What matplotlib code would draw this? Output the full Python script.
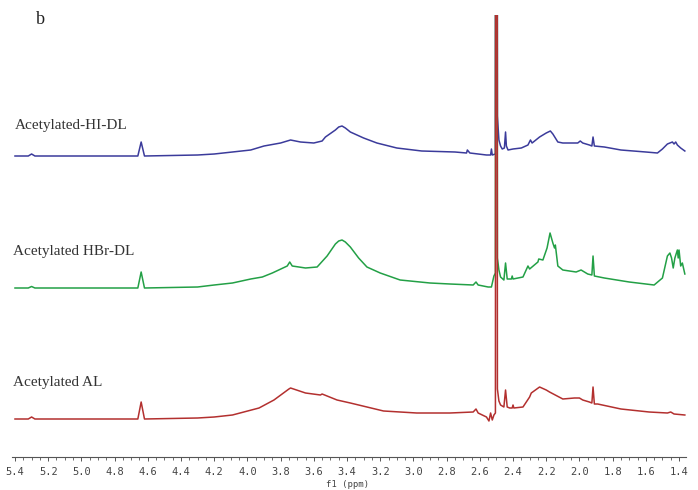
import matplotlib

matplotlib.use("Agg")
import matplotlib.pyplot as plt
from matplotlib.ticker import MultipleLocator, FuncFormatter

# chemical shift (ppm) / intensity (arb. units above each trace's baseline)
HI_DL_PPM = [5.40, 5.32, 5.30, 5.28, 4.66, 4.64, 4.62, 4.30, 4.20, 4.09, 3.98, 3.90,
             3.80, 3.74, 3.68, 3.60, 3.55, 3.53, 3.47, 3.45, 3.43, 3.41, 3.38, 3.30,
             3.22, 3.10, 2.95, 2.75, 2.68, 2.675, 2.66, 2.56, 2.535, 2.53, 2.525,
             2.506, 2.5005, 2.4995, 2.494, 2.485, 2.475, 2.465, 2.452, 2.445, 2.44,
             2.43, 2.40, 2.35, 2.31, 2.295, 2.285, 2.24, 2.20, 2.175, 2.16, 2.13, 2.10,
             2.05, 2.01, 1.995, 1.98, 1.94, 1.925, 1.918, 1.91, 1.85, 1.75, 1.60, 1.53,
             1.50, 1.47, 1.44, 1.43, 1.42, 1.41, 1.39, 1.365]
HI_DL_INT = [0, 0, 2, 0, 0, 14, 0, 1, 2, 4, 6, 10,
             13, 16, 14, 13, 15, 19, 26, 29, 30, 28, 24, 18,
             13, 8, 5, 4, 3, 6, 3, 1, 1, 7, 1,
             2, 2000, 2000, 40, 16, 10, 7, 8, 24, 10,
             6, 7, 8, 11, 16, 13, 19, 23, 25, 22, 14, 13,
             13, 13, 15, 13, 11, 10, 19, 10, 9, 6, 4, 3,
             7, 12, 14, 12, 14, 11, 8, 5]

HBR_DL_PPM = [5.40, 5.32, 5.30, 5.28, 4.66, 4.64, 4.62, 4.30, 4.20, 4.09, 3.98, 3.91,
              3.85, 3.76, 3.745, 3.73, 3.65, 3.58, 3.52, 3.47, 3.45, 3.43, 3.41, 3.38,
              3.33, 3.28, 3.20, 3.08, 2.90, 2.78, 2.64, 2.623, 2.61, 2.55, 2.53, 2.515,
              2.506, 2.5005, 2.4995, 2.494, 2.485, 2.475, 2.455, 2.445, 2.435, 2.42,
              2.41, 2.405, 2.40, 2.34, 2.31, 2.30, 2.25, 2.245, 2.22, 2.195, 2.177, 2.16,
              2.15, 2.145, 2.13, 2.10, 2.02, 1.99, 1.95, 1.925, 1.918, 1.91, 1.85, 1.70,
              1.55, 1.50, 1.47, 1.455, 1.445, 1.435, 1.425, 1.41, 1.405, 1.40, 1.39,
              1.38, 1.365]
HBR_DL_INT = [0, 0, 1.5, 0, 0, 16, 0, 1, 3, 5, 9, 11,
              15, 22, 26, 22, 20, 21, 32, 44, 47, 48, 46, 41,
              30, 21, 15, 8, 5, 4, 3, 6, 3, 1, 1, 12,
              15, 2000, 2000, 30, 18, 11, 8, 25, 9, 9,
              9, 12, 9, 11, 22, 19, 26, 29, 28, 40, 55, 45,
              40, 43, 22, 18, 16, 18, 14, 13, 32, 12, 10, 6,
              3, 10, 32, 35, 30, 20, 30, 38, 30, 38, 22,
              25, 14]

AL_PPM = [5.40, 5.32, 5.30, 5.28, 4.66, 4.64, 4.62, 4.30, 4.20, 4.09, 3.93, 3.84,
          3.75, 3.74, 3.65, 3.56, 3.55, 3.46, 3.38, 3.18, 2.98, 2.78, 2.64, 2.623,
          2.61, 2.56, 2.545, 2.535, 2.525, 2.515, 2.506, 2.5005, 2.4995, 2.494, 2.485,
          2.475, 2.455, 2.445, 2.435, 2.42, 2.405, 2.40, 2.395, 2.34, 2.30, 2.29, 2.24,
          2.20, 2.18, 2.10, 2.03, 2.00, 1.98, 1.94, 1.925, 1.918, 1.91, 1.89, 1.75,
          1.58, 1.47, 1.45, 1.43, 1.365]
AL_INT = [0, 0, 2, 0, 0, 17, 0, 1, 2, 4, 11, 19,
          30, 31, 26, 24, 25, 19, 16, 8, 6, 6, 7, 10,
          6, 2, -2, 6, -1, 4, 6, 2000, 2000, 30, 18,
          14, 12, 29, 12, 11, 11, 14, 11, 12, 22, 26, 32,
          29, 27, 20, 21, 21, 19, 17, 16, 32, 15, 15, 10,
          7, 6, 7, 5, 4]

SPECTRA = [
    ("Acetylated-HI-DL", HI_DL_PPM, HI_DL_INT, "#3b3b9b"),
    ("Acetylated HBr-DL", HBR_DL_PPM, HBR_DL_INT, "#23a046"),
    ("Acetylated AL", AL_PPM, AL_INT, "#b3302f"),
]

W, H = 698, 490
# stacking offsets (px above the axis line) and label positions (px from top-left)
OFFSETS = [301, 169, 38]
LABEL_XY = [(15, 125), (13, 252), (13, 382)]


def _px(x, y):
    return x / W, 1 - y / H


plt.rcParams.update({"font.family": "DejaVu Sans Mono"})

fig = plt.figure(figsize=(W / 100, H / 100), dpi=100)
ax = fig.add_axes([12 / W, (H - 457) / H, (686 - 12) / W, (457 - 15) / H])

for (name, ppm, inten, color), off in zip(SPECTRA, OFFSETS):
    ax.plot(ppm, [v + off for v in inten], color=color, lw=1.1, solid_joinstyle="round")

ax.set_xlim(5.418, 1.358)
ax.set_ylim(0, 442)

for s in ("top", "left", "right"):
    ax.spines[s].set_visible(False)
ax.spines["bottom"].set_color("#555555")
ax.spines["bottom"].set_linewidth(0.8)
ax.set_yticks([])

ax.xaxis.set_major_locator(MultipleLocator(0.2))
ax.xaxis.set_minor_locator(MultipleLocator(0.05))
ax.xaxis.set_major_formatter(FuncFormatter(lambda v, pos: f"{v:.1f}"))
ax.tick_params(axis="x", which="major", length=3, width=0.7, color="#555555",
               labelsize=7.5, labelcolor="#444444", pad=4)
ax.tick_params(axis="x", which="minor", length=2, width=0.6, color="#555555")

fig.text(*_px(348, 484), "f1 (ppm)", ha="center", va="center", fontsize=6.5,
         color="#444444")

for (name, *_), (lx, ly) in zip(SPECTRA, LABEL_XY):
    fig.text(*_px(lx, ly), name, ha="left", va="center", fontsize=11,
             family="Liberation Serif", color="#333333")

fig.text(*_px(40, 20), "b", ha="center", va="center", fontsize=13,
         family="Liberation Serif", color="#222222")

fig.savefig("out.png", dpi=100)
